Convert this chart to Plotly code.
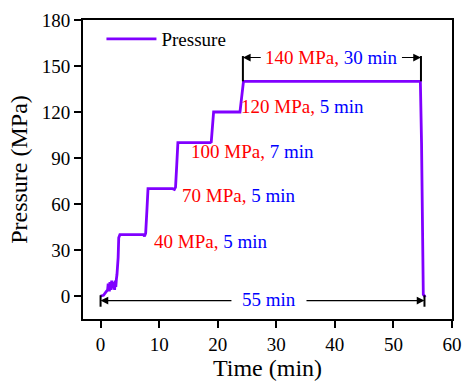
import plotly.graph_objects as go

# ---- data ----
time_min = [0, 0.5, 0.9, 1.2, 1.3, 1.5, 1.6, 1.8, 1.9, 2.1, 2.2, 2.4, 2.5, 2.6, 2.7, 2.8,
            3.0, 3.1, 3.3, 5.0, 7.3, 7.5, 7.7, 7.9, 8.1, 10.0, 12.3, 12.6, 12.8, 13.0, 13.2,
            16.0, 18.7, 18.9, 19.1, 19.3, 22.0, 23.8, 24.1, 24.4, 30.0, 40.0, 50.0, 54.6,
            54.8, 55.0, 55.1, 55.3, 55.5]
pressure_mpa = [0, 0.5, 2.5, 4, 8, 3, 9, 4, 10, 5, 9, 4, 10, 6, 11, 14,
                25, 38, 40, 40, 40, 39, 41, 55, 70, 70, 70, 69.5, 71, 85, 100,
                100, 100, 100.5, 110, 120, 120, 120, 130, 140, 140, 140, 140, 140,
                100, 50, 1, 0, 0.5]

stage_pressure = ["40 MPa", "70 MPa", "100 MPa", "120 MPa", "140 MPa"]
stage_duration = ["5 min", "5 min", "7 min", "5 min", "30 min"]
label_x = [18.8, 23.5, 25.9, 34.4, 39.4]
label_y = [35.7, 65.7, 94.4, 123.7, 155.5]

hold_start, hold_end, hold_top = 24.3, 54.7, 155.5
total_start, total_end, total_y = 0.0, 55.3, -3.0
total_label = "55 min"

x_ticks = [0, 10, 20, 30, 40, 50, 60]
y_ticks = [0, 30, 60, 90, 120, 150, 180]

PURPLE = "#8000ff"
FONT = "Liberation Serif, Times New Roman, serif"

fig = go.Figure()
fig.add_trace(go.Scatter(x=time_min, y=pressure_mpa, mode="lines", name="Pressure",
                         showlegend=True, line=dict(color=PURPLE, width=2.8)))

annotations = []
for p, d, x, y in zip(stage_pressure, stage_duration, label_x, label_y):
    annotations.append(dict(
        x=x, y=y, xref="x", yref="y", showarrow=False,
        text=f"<span style='color:red'>{p}, </span><span style='color:blue'>{d}</span>",
        font=dict(family=FONT, size=19)))

arrow_common = dict(xref="x", yref="y", axref="x", ayref="y", showarrow=True,
                    arrowhead=2, arrowsize=1.4, arrowwidth=1.1, arrowcolor="black", text="")
# 30 min hold bracket arrows
annotations.append(dict(x=hold_start, y=hold_top, ax=27.6, ay=hold_top, **arrow_common))
annotations.append(dict(x=hold_end, y=hold_top, ax=51.2, ay=hold_top, **arrow_common))
# total duration arrows
annotations.append(dict(x=total_start, y=total_y, ax=22.6, ay=total_y, **arrow_common))
annotations.append(dict(x=total_end, y=total_y, ax=34.9, ay=total_y, **arrow_common))
annotations.append(dict(x=28.7, y=-2.0, xref="x", yref="y", showarrow=False,
                        text=f"<span style='color:blue'>{total_label}</span>",
                        font=dict(family=FONT, size=19)))

shapes = [
    dict(type="line", xref="x", yref="y", x0=hold_start, x1=hold_start, y0=140, y1=hold_top + 1,
         line=dict(color="black", width=2)),
    dict(type="line", xref="x", yref="y", x0=hold_end, x1=hold_end, y0=140, y1=hold_top + 1,
         line=dict(color="black", width=2)),
    dict(type="line", xref="x", yref="y", x0=total_start, x1=total_start, y0=0.5, y1=-7,
         line=dict(color="black", width=2)),
    dict(type="line", xref="x", yref="y", x0=total_end, x1=total_end, y0=0.5, y1=-7,
         line=dict(color="black", width=2)),
]

axis_common = dict(showline=True, linecolor="black", linewidth=1.8, mirror=True,
                   ticks="outside", ticklen=7, tickwidth=1.5, tickcolor="black",
                   showgrid=False, zeroline=False,
                   tickfont=dict(family=FONT, size=19, color="black"))

fig.update_layout(
    width=472, height=387,
    margin=dict(l=83, r=10, t=16, b=65),
    plot_bgcolor="white", paper_bgcolor="white",
    font=dict(family=FONT, color="black"),
    xaxis=dict(range=[-3, 60], tickvals=x_ticks,
               title=dict(text="Time (min)", font=dict(family=FONT, size=24), standoff=5),
               **axis_common),
    yaxis=dict(range=[-15, 180], tickvals=y_ticks,
               title=dict(text="Pressure (MPa)", font=dict(family=FONT, size=24), standoff=7),
               **axis_common),
    legend=dict(x=0.05, y=1.0, xanchor="left", yanchor="top", bgcolor="rgba(0,0,0,0)",
                font=dict(family=FONT, size=19, color="black"), itemwidth=50),
    annotations=annotations,
    shapes=shapes,
)

fig.write_html("out.html", config={"displayModeBar": False},
               post_script="document.body.style.margin='0px';")
